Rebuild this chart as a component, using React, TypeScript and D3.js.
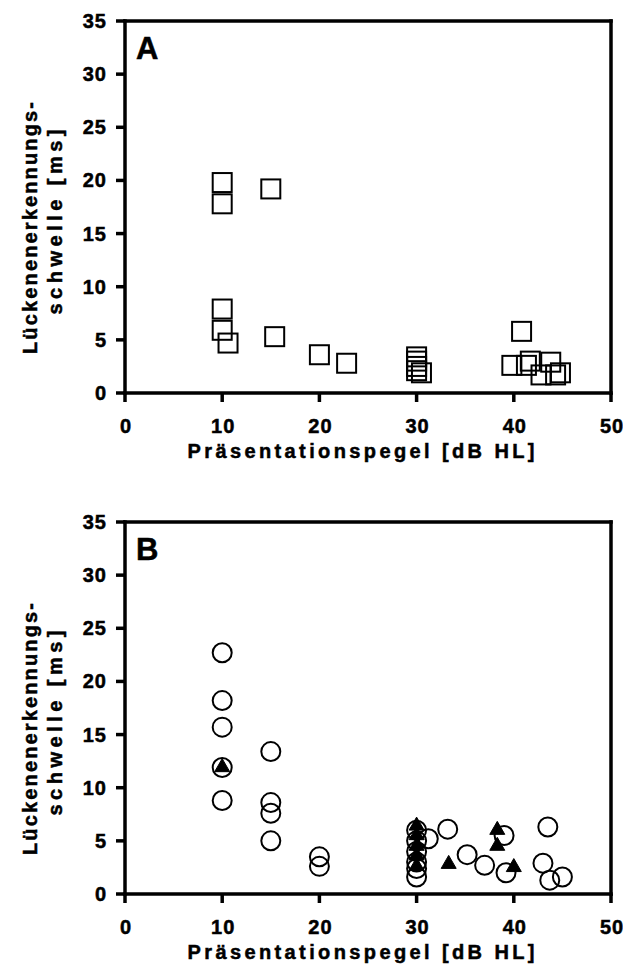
import React from "react";
import * as d3 from "d3";

// ---------- data ----------
const xTickValues = [0, 10, 20, 30, 40, 50];
const yTickValues = [0, 5, 10, 15, 20, 25, 30, 35];
const xTitle = "Präsentationspegel [dB HL]";
const yTitleLine1 = "Lückenenerkennungs-";
const yTitleLine2 = "schwelle [ms]";

// Panel A: open squares
const aLevel = [10, 10, 15, 10, 10, 10.6, 15.4, 20, 22.8, 30, 30, 30, 30, 30.5, 39.8, 40.8, 41.3, 41.7, 42.8, 43.8, 44.3, 44.8];
const aGap = [19.8, 17.8, 19.2, 7.9, 5.9, 4.7, 5.3, 3.6, 2.8, 3.4, 3.0, 2.5, 2.1, 1.9, 2.6, 5.8, 2.6, 3.0, 1.7, 2.9, 1.7, 1.9];

// Panel B: open circles
const bCircleLevel = [10, 10, 10, 10, 10, 15, 15, 15, 15, 20, 20, 30, 30, 30, 30, 30, 30, 31.2, 33.2, 35.2, 37, 39, 39.2, 43, 43.5, 43.7, 45];
const bCircleGap = [22.7, 18.2, 15.7, 11.9, 8.8, 13.4, 8.6, 7.6, 5.0, 3.5, 2.6, 6.0, 5.0, 4.0, 3.0, 2.4, 1.6, 5.2, 6.1, 3.7, 2.7, 5.5, 2.0, 2.9, 6.3, 1.3, 1.6];
// Panel B: filled triangles
const bTriLevel = [10, 30, 30, 30, 30, 30, 33.3, 38.3, 38.3, 40];
const bTriGap = [12.0, 6.5, 5.6, 4.6, 3.7, 2.7, 2.9, 6.1, 4.6, 2.6];

const FONT = "'Liberation Sans', Arial, Helvetica, sans-serif";

const LEFT = 125;
const RIGHT = 611;
const PH = 372;

const textStyle = { stroke: "#000", strokeWidth: 0.5 } as const;

type PanelProps = { top: number; label: string; children: (x: d3.ScaleLinear<number, number>, y: d3.ScaleLinear<number, number>) => React.ReactNode };

function Panel({ top, label, children }: PanelProps) {
  const x = d3.scaleLinear().domain([0, 50]).range([LEFT, RIGHT]);
  const y = d3.scaleLinear().domain([0, 35]).range([top + PH, top]);
  const bottom = y(0);
  const midY = top + PH / 2 + 21;
  return (
    <g>
      {/* frame */}
      <line x1={x(0)} x2={x(50)} y1={y(35)} y2={y(35)} stroke="#000" strokeWidth={3.5} strokeLinecap="square" />
      <line x1={x(50)} x2={x(50)} y1={y(35)} y2={y(0)} stroke="#000" strokeWidth={3.5} strokeLinecap="square" />
      <line x1={x(0)} x2={x(50)} y1={bottom} y2={bottom} stroke="#000" strokeWidth={3.5} strokeLinecap="square" />
      <line x1={x(0)} x2={x(0)} y1={y(35)} y2={y(0)} stroke="#000" strokeWidth={3.5} strokeLinecap="square" />
      {/* y ticks */}
      {yTickValues.map((v) => (
        <g key={"y" + v}>
          <line x1={x(0) - 9} x2={x(0)} y1={y(v)} y2={y(v)} stroke="#000" strokeWidth={3.5} />
          <text x={107} y={y(v) + 7} textAnchor="end" fontFamily={FONT} fontWeight="bold" fontSize={20} letterSpacing={1} style={textStyle}>{v}</text>
        </g>
      ))}
      {/* x ticks */}
      {xTickValues.map((v) => (
        <g key={"x" + v}>
          <line x1={x(v)} x2={x(v)} y1={bottom} y2={bottom + 9} stroke="#000" strokeWidth={3.5} />
          <text x={x(v) + 1} y={bottom + 40} textAnchor="middle" fontFamily={FONT} fontWeight="bold" fontSize={20} letterSpacing={1} style={textStyle}>{v}</text>
        </g>
      ))}
      <text x={361} y={bottom + 65} textAnchor="middle" fontFamily={FONT} fontWeight="bold" fontSize={20} textLength={347} lengthAdjust="spacing" style={textStyle}>{xTitle}</text>
      <text transform={`translate(37,${midY}) rotate(-90)`} textAnchor="middle" fontFamily={FONT} fontWeight="bold" fontSize={20} textLength={252} lengthAdjust="spacing" style={textStyle}>{yTitleLine1}</text>
      <text transform={`translate(62,${midY - 6}) rotate(-90)`} textAnchor="middle" fontFamily={FONT} fontWeight="bold" fontSize={20} textLength={185} lengthAdjust="spacing" style={textStyle}>{yTitleLine2}</text>
      <text x={136} y={top + 38} fontFamily={FONT} fontWeight="bold" fontSize={31} style={textStyle}>{label}</text>
      {children(x, y)}
    </g>
  );
}

export default function App() {
  const tri = (cx: number, cy: number) => {
    const h = 13, w = 15;
    return `M${cx},${cy - h * 0.6} L${cx + w / 2},${cy + h * 0.4} L${cx - w / 2},${cy + h * 0.4} Z`;
  };
  return (
    <svg width={623} height={980} style={{ position: "absolute", left: 0, top: 0, background: "#fff" }}>
      <rect width={623} height={980} fill="#fff" />
      <Panel top={21} label="A">
        {(x, y) =>
          aLevel.map((lv, i) => (
            <rect key={i} x={x(lv) - 9.5} y={y(aGap[i]) - 9.5} width={19} height={19} fill="none" stroke="#000" strokeWidth={2} />
          ))
        }
      </Panel>
      <Panel top={522} label="B">
        {(x, y) => (
          <g>
            {bCircleLevel.map((lv, i) => (
              <circle key={"c" + i} cx={x(lv)} cy={y(bCircleGap[i])} r={9.5} fill="none" stroke="#000" strokeWidth={2} />
            ))}
            {bTriLevel.map((lv, i) => (
              <path key={"t" + i} d={tri(x(lv), y(bTriGap[i]))} fill="#000" stroke="#000" strokeWidth={1} />
            ))}
          </g>
        )}
      </Panel>
    </svg>
  );
}
